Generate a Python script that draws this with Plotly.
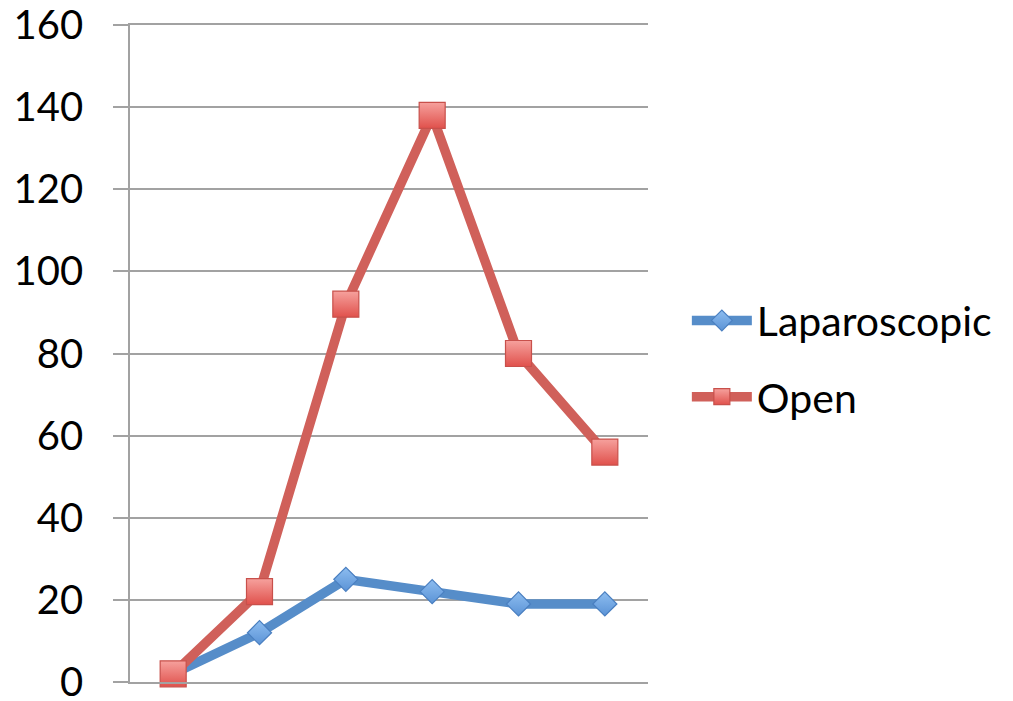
import plotly.graph_objects as go

# Six time points along the x axis (no labels are shown on that axis)
periods = ["1", "2", "3", "4", "5", "6"]
laparoscopic = [2, 12, 25, 22, 19, 19]
open_surgery = [2, 22, 92, 138, 80, 56]
y_ticks = [0, 20, 40, 60, 80, 100, 120, 140, 160]

FONT = "Lato, 'Open Sans', 'Liberation Sans', sans-serif"
GRID = "#A2A2A2"

fig = go.Figure()

fig.add_trace(go.Scatter(
    x=periods, y=laparoscopic, name="Laparoscopic",
    mode="lines+markers", legendgroup="lap",
    line=dict(color="#568DC9", width=9.5),
    marker=dict(symbol="diamond", size=18.5, color="#8DBDF0",
                gradient=dict(type="vertical", color="#5B93D6"),
                line=dict(color="#4A7FC0", width=1.2)),
    cliponaxis=False,
))

fig.add_trace(go.Scatter(
    x=periods, y=open_surgery, name="Open",
    mode="lines+markers", legendgroup="open",
    line=dict(color="#D0605A", width=9.5),
    marker=dict(symbol="square", size=26, color="#F6A19D",
                gradient=dict(type="vertical", color="#E0514C"),
                line=dict(color="#C8504B", width=1.2)),
    cliponaxis=False,
))

fig.update_layout(
    width=1013, height=701,
    margin=dict(l=130, r=365, t=25, b=19),
    paper_bgcolor="white", plot_bgcolor="white",
    font=dict(family=FONT, size=40, color="black"),
    showlegend=True,
    legend=dict(
        x=1.075, y=0.492, xanchor="left", yanchor="middle",
        font=dict(family=FONT, size=41, color="black"),
        tracegroupgap=20, itemwidth=60,
        bgcolor="rgba(0,0,0,0)",
    ),
    xaxis=dict(
        type="category", categoryorder="array", categoryarray=periods,
        range=[-0.5, 5.5], automargin=False,
        showticklabels=False, showgrid=False, zeroline=False,
        showline=True, mirror=True, linecolor=GRID, linewidth=1.6,
        ticks="",
    ),
    yaxis=dict(
        range=[0, 160], tickvals=y_ticks, ticktext=[str(v) for v in y_ticks],
        automargin=False,
        showgrid=True, gridcolor=GRID, gridwidth=1.6,
        zeroline=False,
        showline=True, linecolor=GRID, linewidth=1.6,
        ticks="outside", ticklen=15, tickcolor=GRID, tickwidth=1.6,
        ticklabelstandoff=22, ticklabeloverflow="allow",
        tickfont=dict(family=FONT, size=40, color="black"),
    ),
)

fig.write_html("out.html")
